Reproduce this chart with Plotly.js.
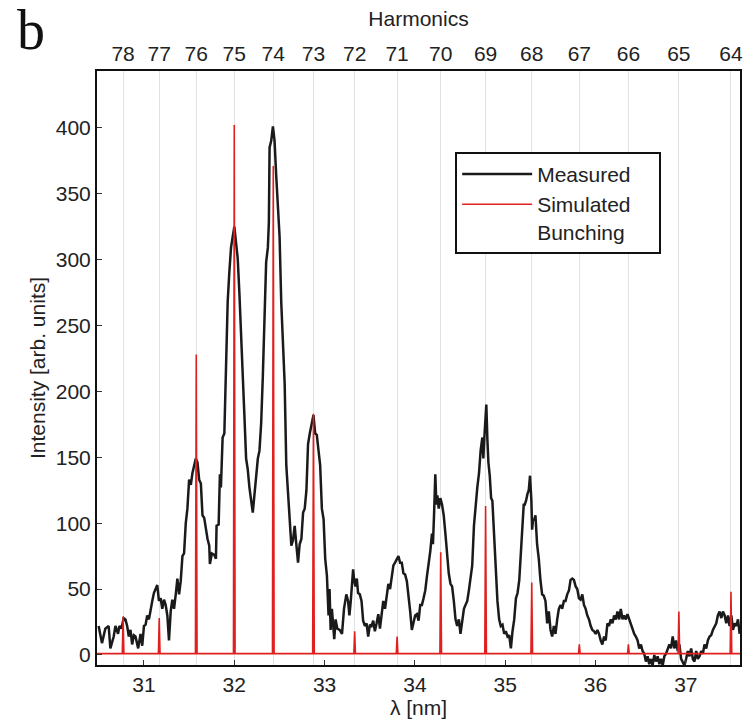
<!DOCTYPE html>
<html>
<head>
<meta charset="utf-8">
<script src="https://cdn.plot.ly/plotly-3.0.1.min.js"></script>
<style>html,body{margin:0;padding:0;background:#fff;}#chart{width:747px;height:721px;}</style>
</head>
<body>
<div id="chart"></div>
<script>
// Measured spectrum: wavelength (nm) and intensity (arb. units)
const measuredLambda = [
30.498,30.535,30.572,30.609,30.628,30.665,30.684,30.713,30.728,30.750,30.776,30.795,30.814,30.832,30.851,30.869,30.888,30.906,30.936,30.962,30.981,
31.000,31.018,31.036,31.055,31.073,31.092,31.110,31.129,31.147,31.166,31.185,31.203,31.222,31.240,31.259,31.277,31.296,31.314,31.333,31.352,31.370,31.389,31.407,31.426,31.444,31.463,31.481,
31.500,31.519,31.537,31.556,31.574,31.593,31.611,31.630,31.648,31.667,31.685,31.704,31.723,31.730,31.752,31.778,31.797,31.804,31.827,31.841,31.852,31.871,31.890,31.908,31.916,31.927,31.945,31.964,31.982,
32.001,32.019,32.038,32.057,32.075,32.094,32.112,32.131,32.149,32.168,32.186,32.205,32.224,32.242,32.261,32.279,32.298,32.316,32.335,32.353,32.372,32.383,32.391,32.409,32.428,32.446,32.465,32.483,
32.502,32.520,32.539,32.558,32.576,32.595,32.613,32.632,32.650,32.669,32.687,32.706,32.724,32.743,32.762,32.780,32.799,32.817,32.836,32.854,32.873,32.877,32.896,32.914,32.933,32.951,32.970,32.989,
33.007,33.026,33.044,33.055,33.067,33.081,33.096,33.107,33.122,33.141,33.167,33.193,33.215,33.241,33.260,33.275,33.290,33.305,33.316,33.327,33.342,33.357,33.371,33.390,33.409,33.427,33.446,33.465,33.483,
33.502,33.520,33.539,33.557,33.576,33.595,33.613,33.632,33.650,33.669,33.687,33.706,33.725,33.743,33.762,33.780,33.799,33.818,33.836,33.855,33.873,33.892,33.911,33.929,33.948,33.966,33.985,
34.003,34.022,34.041,34.059,34.078,34.096,34.115,34.134,34.152,34.171,34.189,34.200,34.212,34.226,34.238,34.249,34.264,34.282,34.301,34.319,34.338,34.357,34.375,34.394,34.412,34.431,34.450,34.468,34.487,
34.505,34.524,34.543,34.561,34.580,34.598,34.617,34.635,34.654,34.673,34.691,34.710,34.728,34.747,34.758,34.769,34.780,34.791,34.803,34.814,34.829,34.844,34.858,34.877,34.896,34.914,34.933,34.951,34.970,34.989,
35.007,35.026,35.044,35.063,35.081,35.100,35.119,35.137,35.156,35.186,35.205,35.216,35.231,35.246,35.261,35.275,35.290,35.298,35.309,35.320,35.335,35.353,35.372,35.390,35.409,35.427,35.446,35.465,35.483,
35.502,35.520,35.539,35.557,35.576,35.594,35.613,35.631,35.650,35.668,35.687,35.706,35.724,35.743,35.761,35.780,35.798,35.817,35.835,35.854,35.872,35.891,35.909,35.928,35.947,35.965,35.984,
36.002,36.021,36.039,36.058,36.076,36.095,36.113,36.132,36.150,36.169,36.188,36.206,36.225,36.243,36.262,36.280,36.299,36.317,36.336,36.354,36.373,36.391,36.410,36.429,36.447,36.466,36.484,
36.503,36.521,36.540,36.558,36.577,36.595,36.614,36.632,36.651,36.669,36.688,36.707,36.725,36.744,36.762,36.781,36.799,36.818,36.836,36.855,36.873,36.892,36.911,36.929,36.948,36.966,36.985,
37.003,37.022,37.040,37.059,37.078,37.096,37.115,37.133,37.152,37.170,37.189,37.207,37.226,37.244,37.263,37.281,37.300,37.318,37.337,37.355,37.374,37.393,37.411,37.430,37.448,37.467,37.485,
37.504,37.522,37.541,37.559,37.578,37.596
];
const measuredIntensity = [
22,9,20,22,5,14,22,16,22,20,28,27,22,14,19,8,15,14,5,16,7,
22,23,30,27,35,41,47,50,53,41,43,35,42,38,30,11,33,42,35,46,58,46,56,75,77,100,111,
133,129,138,144,149,146,133,130,106,104,95,88,83,69,77,76,73,98,99,137,127,165,168,230,236,268,290,309,317,
325,313,301,274,247,209,182,149,141,127,119,108,122,136,149,155,176,211,252,298,309,328,385,390,401,390,363,344,
317,268,241,206,144,122,103,83,87,98,84,70,84,88,108,111,125,160,168,174,179,182,168,167,155,144,111,103,
73,60,30,50,19,35,22,12,27,20,19,16,35,46,41,30,41,52,65,57,52,58,47,46,41,26,22,24,14,
23,22,26,18,24,31,20,30,41,35,45,54,50,60,68,70,73,75,70,70,62,61,56,46,33,19,24,
30,31,26,38,38,43,49,60,68,79,92,84,106,137,114,121,111,119,114,106,92,76,62,54,52,41,27,22,27,
16,26,35,38,41,49,57,68,98,114,127,138,155,165,149,165,176,190,163,146,136,119,117,92,70,41,27,22,23,16,
18,14,15,5,18,27,43,47,57,95,114,114,117,122,125,136,117,95,103,102,106,84,73,57,46,45,41,24,33,
19,14,22,16,27,35,38,35,41,41,46,49,57,58,57,52,50,43,42,46,38,35,30,27,22,19,18,
16,19,16,11,8,14,11,24,22,27,24,30,27,33,27,35,27,30,27,31,27,24,19,16,14,11,5,
8,3,1,-5,-1,-7,-3,-8,0,-5,-1,-7,-3,-8,-1,1,5,8,5,14,5,11,3,8,-3,-5,-8,
-3,3,-1,5,-3,-5,3,-3,-1,3,1,8,5,11,14,15,19,22,24,30,33,28,33,30,24,30,22,
30,19,24,22,27,16
];

// Simulated bunching: spike wavelengths (nm), harmonic order and spike height
const harmonicOrder = [78,77,76,75,74,73,72,71,70,69,68,67,66,65,64];
const harmonicLambda = [30.769,31.169,31.579,32.000,32.432,32.877,33.333,33.803,34.286,34.783,35.294,35.821,36.364,36.923,37.500];
const simulatedPeak = [29,28,228,402,371,183,18,14,78,113,55,8,8,33,48];
const bottomTicks = [31,32,33,34,35,36,37];
const yTicks = [0,50,100,150,200,250,300,350,400];

// Build simulated trace as narrow spikes on a flat baseline
const simX = [30.48], simY = [1];
harmonicLambda.forEach((l, i) => {
  simX.push(l - 0.009, l, l + 0.009);
  simY.push(1, simulatedPeak[i], 1);
});
simX.push(37.6); simY.push(1);

const FONT = 'Liberation Sans, Arial, Helvetica, sans-serif';
const FS = 21;
const XR = [30.48, 37.6];
const NB = '\u00A0';

const traces = [
  {x: measuredLambda, y: measuredIntensity, type: 'scatter', mode: 'lines', name: 'Measured',
   line: {color: '#1a1a1a', width: 2.5}},
  {x: simX, y: simY, type: 'scatter', mode: 'lines', name: 'Simulated' + NB.repeat(4) + '<br>Bunching',
   line: {color: '#e0201f', width: 1.6}},
  {x: [XR[0]], y: [null], xaxis: 'x2', showlegend: false, hoverinfo: 'skip', type: 'scatter'}
];

const layout = {
  width: 747, height: 721,
  margin: {l: 97, r: 7, t: 71, b: 56},
  paper_bgcolor: '#fff', plot_bgcolor: '#fff',
  font: {family: FONT, size: FS, color: '#222'},
  showlegend: true,
  legend: {x: 0.557, y: 0.864, xanchor: 'left', yanchor: 'top', bgcolor: '#fff',
           bordercolor: '#111', borderwidth: 2, font: {size: FS, family: FONT, color: '#222'},
           itemwidth: 70, tracegroupgap: 2, valign: 'top'},
  xaxis: {range: XR, tickvals: bottomTicks, ticktext: bottomTicks.map(String),
          showgrid: false, zeroline: false, showline: true, linecolor: '#111', linewidth: 2,
          mirror: true, ticks: 'inside', ticklen: 5, tickcolor: '#333',
          tickfont: {size: FS}, title: {text: 'λ [nm]', font: {size: FS}, standoff: 2}},
  xaxis2: {range: XR, overlaying: 'x', side: 'top', anchor: 'y',
           tickvals: harmonicLambda, ticktext: harmonicOrder.map(String),
           showgrid: true, gridcolor: '#e2e2e2', gridwidth: 1, ticks: '', zeroline: false,
           showline: false, tickfont: {size: FS}, ticklabelstandoff: 5,
           title: {text: 'Harmonics', font: {size: FS}, standoff: 9}},
  yaxis: {range: [-7.6, 443], tickvals: yTicks, ticktext: yTicks.map(String),
          showgrid: false, zeroline: false, showline: true, linecolor: '#111', linewidth: 2,
          mirror: true, ticks: 'inside', ticklen: 5, tickcolor: '#333',
          tickfont: {size: FS},
          title: {text: 'Intensity [arb. units]', font: {size: FS}, standoff: 4}},
  annotations: [{text: 'b', xref: 'paper', yref: 'paper', x: -0.128, y: 1.124,
                 xanchor: 'left', yanchor: 'top', showarrow: false,
                 font: {family: 'Liberation Serif, Times New Roman, serif', size: 56, color: '#111'}}]
};

Plotly.newPlot('chart', traces, layout, {displayModeBar: false, staticPlot: true});
</script>
</body>
</html>
